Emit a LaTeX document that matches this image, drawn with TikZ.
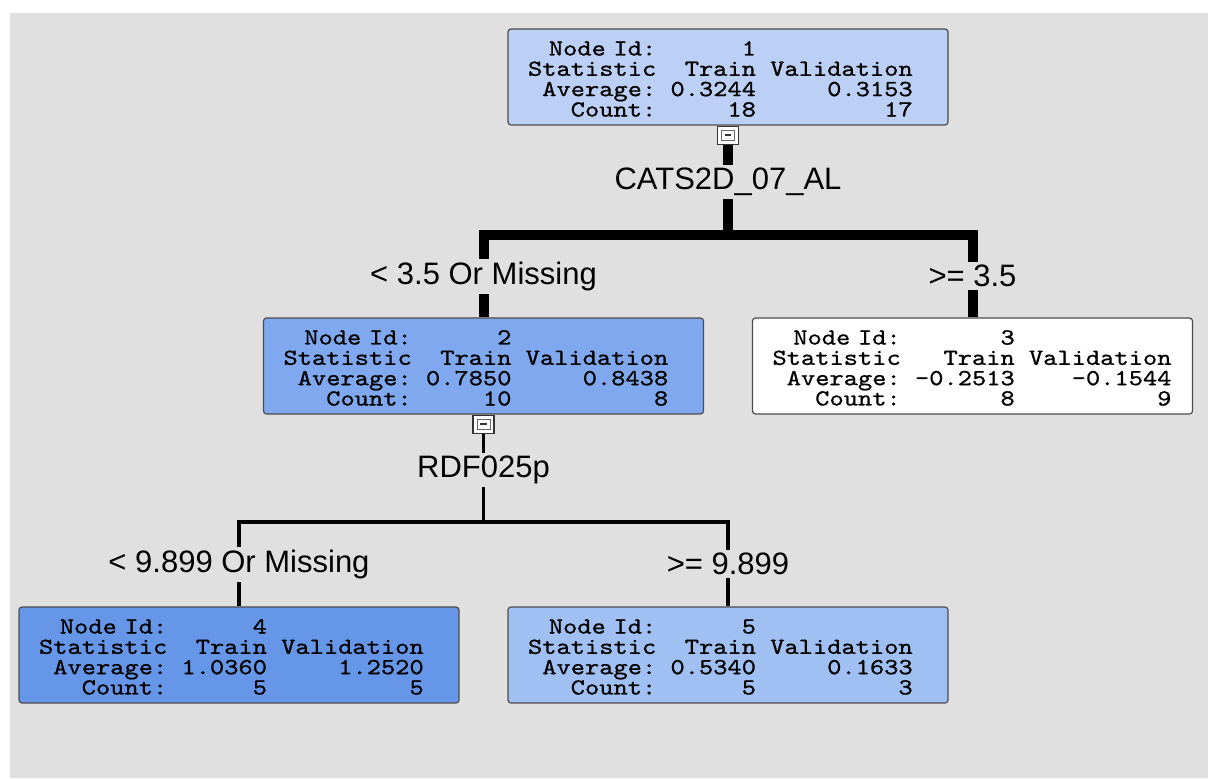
\documentclass[tikz,border=0pt]{standalone}
\usepackage{fontspec}
\setmainfont{Liberation Sans}
\setmonofont{lmmono10-regular.otf}[FakeStretch=1.18, FakeBold=0.8]
\usetikzlibrary{positioning}

\definecolor{bggray}{HTML}{E0E0E0}
\definecolor{rootblue}{HTML}{BCCFF5}
\definecolor{midblue}{HTML}{7FA8EE}
\definecolor{deepblue}{HTML}{6696E8}
\definecolor{paleblue}{HTML}{A0BFF3}

\newcommand{\nodestats}[5]{%
  \begin{tabular}{@{}r@{\hspace{0.6195em}}r@{\hspace{0.6195em}}r@{}}
    \rule{0pt}{12pt}Node Id: & #1 & \\
    Statistic & Train & Validation \\
    Average: & #2 & #3 \\
    Count: & #4 & #5
  \end{tabular}}

\tikzset{
  treenode/.style={draw=black!70, line width=0.6pt, rounded corners=1.5pt,
    minimum width=220pt, minimum height=48pt, text width=200pt,
    inner xsep=10pt, inner ysep=1pt, align=left,
    font=\ttfamily\fontsize{11.5}{10}\selectfont},
  collapse/.style={draw=black!80, fill=white, line width=0.6pt, inner sep=0pt,
    minimum width=10.5pt, minimum height=9pt, anchor=north,
    path picture={
      \draw[black!60, line width=0.5pt]
        ([shift={(2pt,2pt)}]path picture bounding box.south west) rectangle
        ([shift={(-2pt,-2pt)}]path picture bounding box.north east);
      \draw[line width=0.8pt] ([xshift=-1.6pt]path picture bounding box.center)
        -- ([xshift=1.6pt]path picture bounding box.center);}},
  bigedge/.style={line width=5pt},
  smalledge/.style={line width=1.8pt},
  splitlabel/.style={fill=bggray, inner xsep=2pt, inner ysep=1.5pt,
    font=\fontsize{15.5}{18}\selectfont},
}

\begin{document}
\begin{tikzpicture}[x=0.5pt, y=-0.5pt, on grid]
  % canvas
  \useasboundingbox (0,0) rectangle (1208,778);
  \fill[white] (0,0) rectangle (1208,778);
  \fill[bggray] (10,13) rectangle (1208,778);

  % tree nodes
  \node(n1)[treenode, fill=rootblue] at (728,77) {\nodestats{1}{0.3244}{0.3153}{18}{17}};
  \node(n2)[treenode, fill=midblue, below left=144.5pt and 122.25pt of n1] {\nodestats{2}{0.7850}{0.8438}{10}{8}};
  \node(n3)[treenode, fill=white, below right=144.5pt and 122.25pt of n1] {\nodestats{3}{-0.2513}{-0.1544}{8}{9}};
  \node(n4)[treenode, fill=deepblue, below left=144.5pt and 122.25pt of n2] {\nodestats{4}{1.0360}{1.2520}{5}{5}};
  \node(n5)[treenode, fill=paleblue, below right=144.5pt and 122.25pt of n2] {\nodestats{5}{0.5340}{0.1633}{5}{3}};

  % collapse buttons
  \node(c1)[collapse] at (n1.south) {};
  \node(c2)[collapse] at (n2.south) {};
  \coordinate (j1) at ([yshift=-45pt]c1.south);
  \coordinate (j2) at ([yshift=-44pt]c2.south);

  % first split
  \draw[bigedge] (c1.south) -- (j1) node[splitlabel, pos=0.41] {CATS2D\_07\_AL};
  \draw[bigedge] (n2.north) -- node[splitlabel] {< 3.5 Or Missing} (n2.north |- j1)
    -- (n3.north |- j1) -- node[splitlabel] {>= 3.5} (n3.north);

  % second split
  \draw[smalledge] (c2.south) -- (j2) node[splitlabel, pos=0.41] {RDF025p};
  \draw[smalledge] (n4.north) -- node[splitlabel] {< 9.899 Or Missing} (n4.north |- j2)
    -- (n5.north |- j2) -- node[splitlabel] {>= 9.899} (n5.north);
\end{tikzpicture}
\end{document}
